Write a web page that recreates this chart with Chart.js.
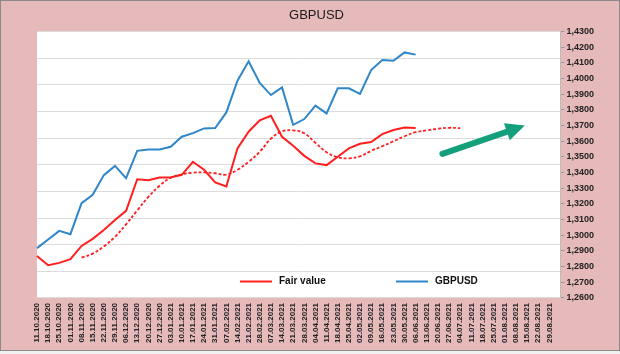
<!DOCTYPE html>
<html>
<head>
<meta charset="utf-8">
<script src="https://cdn.jsdelivr.net/npm/chart.js@4/dist/chart.umd.min.js"></script>
<style>
  html, body { margin: 0; padding: 0; background: #fff; }
</style>
</head>
<body>
<canvas id="chartCanvas" width="620" height="354"></canvas>
<script>
// --- data ---
const weeks = [
  "11.10.2020", "18.10.2020", "25.10.2020", "01.11.2020", "08.11.2020", "15.11.2020",
  "22.11.2020", "29.11.2020", "06.12.2020", "13.12.2020", "20.12.2020", "27.12.2020",
  "03.01.2021", "10.01.2021", "17.01.2021", "24.01.2021", "31.01.2021", "07.02.2021",
  "14.02.2021", "21.02.2021", "28.02.2021", "07.03.2021", "14.03.2021", "21.03.2021",
  "28.03.2021", "04.04.2021", "11.04.2021", "18.04.2021", "25.04.2021", "02.05.2021",
  "09.05.2021", "16.05.2021", "23.05.2021", "30.05.2021", "06.06.2021", "13.06.2021",
  "20.06.2021", "27.06.2021", "04.07.2021", "11.07.2021", "18.07.2021", "25.07.2021",
  "01.08.2021", "08.08.2021", "15.08.2021", "22.08.2021", "29.08.2021"
];

const fairValue = [
  1.2868, 1.2809, 1.2824, 1.2847, 1.2932, 1.2977, 1.3034, 1.3098, 1.3156, 1.3358,
  1.3352, 1.3369, 1.3369, 1.3386, 1.3469, 1.3418, 1.3337, 1.3311, 1.3555, 1.3661,
  1.3734, 1.3763, 1.3629, 1.3571, 1.3507, 1.3459, 1.3448, 1.3501, 1.3555, 1.3584,
  1.3595, 1.3646, 1.3672, 1.3688, 1.3684
];

const gbpusd = [
  1.2918, 1.2973, 1.3028, 1.3007, 1.3205, 1.3258, 1.3384, 1.3443, 1.3365, 1.3539,
  1.3548, 1.3548, 1.3565, 1.3629, 1.3652, 1.3682, 1.3684, 1.3784, 1.3987, 1.4110,
  1.3972, 1.3895, 1.3944, 1.3705, 1.3742, 1.3827, 1.3778, 1.3938, 1.3938, 1.3902,
  1.4055, 1.4119, 1.4114, 1.4167, 1.4153
];

// smoothed fair value (dashed), starts at 08.11.2020
const fairValueTrend = [
  null, null, null, null,
  1.2858, 1.2883, 1.2929, 1.2990, 1.3070, 1.3159, 1.3245, 1.3316, 1.3367, 1.3389,
  1.3400, 1.3401, 1.3396, 1.3387, 1.3418, 1.3469, 1.3533, 1.3616, 1.3664, 1.3670,
  1.3651, 1.3590, 1.3530, 1.3498, 1.3491, 1.3504, 1.3539, 1.3568, 1.3600, 1.3632,
  1.3658, 1.3670, 1.3680, 1.3686, 1.3684
];

const yMin = 1.26;
const yMax = 1.43;
const yStep = 0.01;

// green arrow, in (category index, price) units
const arrowFrom = { x: 36.4, y: 1.3520 };
const arrowTo = { x: 43.8, y: 1.3700 };

const RED = "#ff1f1f";
const BLUE = "#2f86c9";
const PINK = "#e6b9ba";
const FONT = "'Liberation Sans', Arial, sans-serif";

// --- plugins ---
const framePlugin = {
  id: "frame",
  beforeDraw(chart) {
    const { ctx, chartArea: a, width } = chart;
    ctx.save();
    ctx.fillStyle = "#f0f0f0";
    ctx.fillRect(0, 0, width, chart.height);
    ctx.fillStyle = PINK;
    ctx.fillRect(0, 0, width, 351);
    ctx.strokeStyle = "#8a8a8a";
    ctx.lineWidth = 1;
    ctx.strokeRect(0.5, 0.5, width - 1, 350);
    ctx.fillStyle = "#fff";
    ctx.fillRect(a.left, a.top, a.right - a.left, a.bottom - a.top);
    ctx.restore();
  }
};

const extrasPlugin = {
  id: "extras",
  afterDatasetsDraw(chart) {
    const { ctx, scales } = chart;
    ctx.save();

    // arrow
    const x1 = scales.x.getPixelForValue(arrowFrom.x);
    const y1 = scales.y.getPixelForValue(arrowFrom.y);
    const x2 = scales.x.getPixelForValue(arrowTo.x);
    const y2 = scales.y.getPixelForValue(arrowTo.y);
    const ang = Math.atan2(y2 - y1, x2 - x1);
    const headLen = 19, headHalf = 9;
    const bx = x2 - headLen * Math.cos(ang);
    const by = y2 - headLen * Math.sin(ang);
    ctx.strokeStyle = "#15a07c";
    ctx.fillStyle = "#15a07c";
    ctx.lineWidth = 6;
    ctx.lineCap = "round";
    ctx.beginPath();
    ctx.moveTo(x1, y1);
    ctx.lineTo(bx + 2 * Math.cos(ang), by + 2 * Math.sin(ang));
    ctx.stroke();
    ctx.beginPath();
    ctx.moveTo(x2, y2);
    ctx.lineTo(bx + headHalf * Math.sin(ang), by - headHalf * Math.cos(ang));
    ctx.lineTo(bx - headHalf * Math.sin(ang), by + headHalf * Math.cos(ang));
    ctx.closePath();
    ctx.fill();

    // legend inside the plot
    const items = [
      { ds: 0, x: 240 },
      { ds: 1, x: 396 }
    ];
    const ly = 281.5;
    ctx.lineCap = "butt";
    ctx.font = "bold 10px " + FONT;
    ctx.textBaseline = "middle";
    items.forEach(it => {
      const ds = chart.data.datasets[it.ds];
      ctx.strokeStyle = ds.borderColor;
      ctx.lineWidth = 2;
      ctx.beginPath();
      ctx.moveTo(it.x, ly);
      ctx.lineTo(it.x + 32, ly);
      ctx.stroke();
      ctx.fillStyle = "#111";
      ctx.fillText(ds.label, it.x + 39, ly);
    });
    ctx.restore();
  }
};

// --- chart ---
const labels = [...weeks, ""];

new Chart(document.getElementById("chartCanvas"), {
  type: "line",
  data: {
    labels,
    datasets: [
      {
        label: "Fair value",
        data: fairValue,
        borderColor: RED,
        borderWidth: 2,
        pointRadius: 0,
        tension: 0,
        yAxisID: "y"
      },
      {
        label: "GBPUSD",
        data: gbpusd,
        borderColor: BLUE,
        borderWidth: 2,
        pointRadius: 0,
        tension: 0,
        yAxisID: "y"
      },
      {
        label: "Fair value trend",
        data: fairValueTrend,
        borderColor: RED,
        borderWidth: 1.8,
        borderDash: [3, 2],
        pointRadius: 0,
        tension: 0.4,
        yAxisID: "y"
      }
    ]
  },
  options: {
    responsive: false,
    animation: false,
    layout: { padding: { left: 37, right: 24, bottom: 6, top: 0 } },
    plugins: {
      legend: { display: false },
      tooltip: { enabled: false },
      title: {
        display: true,
        text: "GBPUSD",
        color: "#1a1a1a",
        font: { family: FONT, size: 13, weight: "normal" },
        padding: { top: 8, bottom: 8 }
      }
    },
    scales: {
      x: {
        grid: { display: false, drawTicks: false },
        border: { display: false },
        ticks: {
          autoSkip: false,
          minRotation: 90,
          maxRotation: 90,
          padding: 5,
          color: "#222",
          font: { family: FONT, size: 8, weight: "bold" }
        }
      },
      y: {
        position: "right",
        min: yMin,
        max: yMax,
        grid: { drawOnChartArea: false, tickLength: 4, color: "#9a9a9a" },
        border: { display: true, color: "#bdbdbd" },
        ticks: {
          stepSize: yStep,
          maxTicksLimit: 30,
          padding: 2,
          color: "#222",
          font: { family: FONT, size: 9, weight: "bold" },
          callback: v => v.toFixed(4).replace(".", ",")
        }
      },
      grid10: {
        position: "left",
        min: 0,
        max: 10,
        grid: { color: "#dcdcdc", drawTicks: false },
        border: { display: false },
        ticks: { display: false, stepSize: 1 }
      }
    }
  },
  plugins: [framePlugin, extrasPlugin]
});
</script>
</body>
</html>
